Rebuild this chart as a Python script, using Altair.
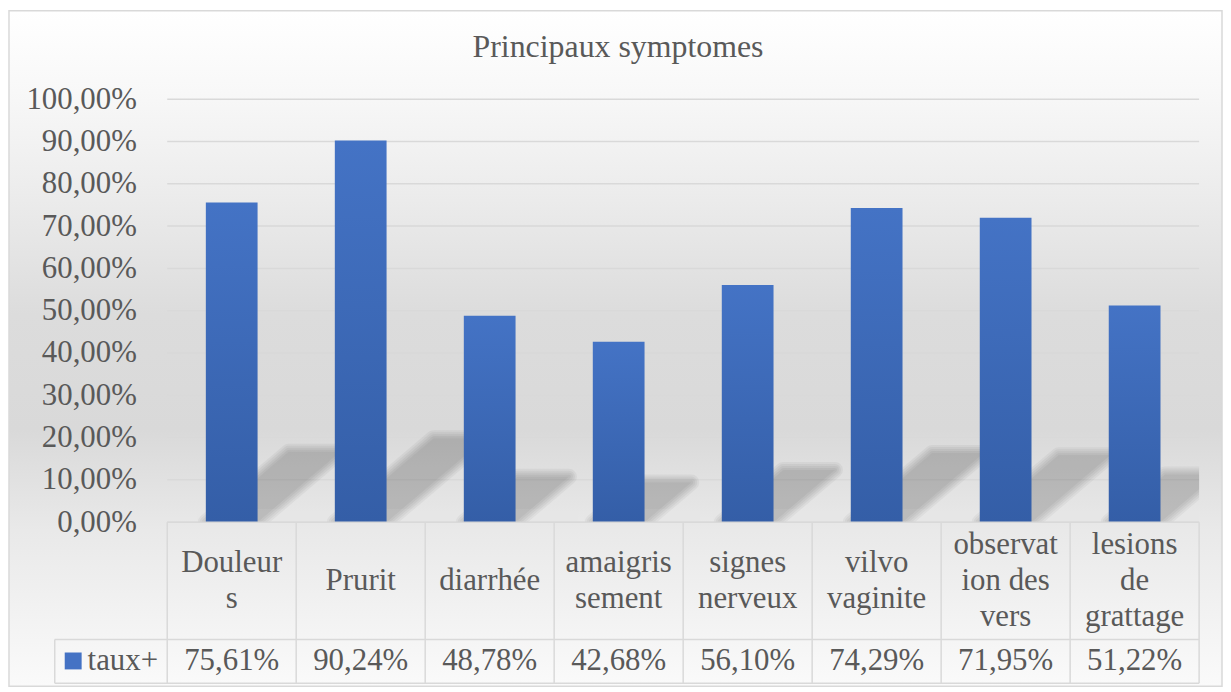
import altair as alt
import pandas as pd

categories = ["Douleurs", "Prurit", "diarrhée", "amaigrissement", "signes nerveux",
              "vilvo vaginite", "observation des vers", "lesions de grattage"]
labels = ["Douleur\ns", "Prurit", "diarrhée", "amaigris\nsement", "signes\nnerveux",
          "vilvo\nvaginite", "observat\nion des\nvers", "lesions\nde\ngrattage"]
values = [0.7561, 0.9024, 0.4878, 0.4268, 0.5610, 0.7429, 0.7195, 0.5122]
series_name = "taux+"
title_text = "Principaux symptomes"
y_ticks = [0, 0.1, 0.2, 0.3, 0.4, 0.5, 0.6, 0.7, 0.8, 0.9, 1.0]

n = len(categories)
df = pd.DataFrame({"cat": categories, "label": labels, "value": values})
one = pd.DataFrame({"k": [0]})
ticks_df = pd.DataFrame({"t": y_ticks})
# four outline samples per bar for the soft drop shadow behind each bar
shadow_df = pd.DataFrame({
    "cat": categories * 4,
    "idx": list(range(n)) * 4,
    "value": values * 4,
    "k": [0] * n + [1] * n + [2] * n + [3] * n,
})

W, H = 1037, 425
BAND = W / n
BARW = 52
FONT = "Liberation Serif, serif"
TXT = "#595959"
LINE = "#d9d9d9"
FS = 31

xs = alt.Scale(domain=categories, paddingInner=0, paddingOuter=0)
ys = alt.Scale(domain=[0, 1], nice=False)
xq = alt.Scale(domain=[0, n], nice=False, zero=False)

base = alt.Chart(df)
deco = alt.Chart(one)

bg = deco.mark_rect(
    color={"gradient": "linear", "x1": 0, "y1": 0, "x2": 0, "y2": 1,
           "stops": [{"offset": 0, "color": "#ffffff"},
                     {"offset": 0.12, "color": "#f8f8f8"},
                     {"offset": 0.27, "color": "#ececec"},
                     {"offset": 0.45, "color": "#dcdcdc"},
                     {"offset": 0.62, "color": "#d9d9d9"},
                     {"offset": 0.77, "color": "#e9e9e9"},
                     {"offset": 1, "color": "#fafafa"}]},
    stroke=LINE, strokeWidth=1.5
).encode(x=alt.value(-159), x2=alt.value(W + 23), y=alt.value(-89), y2=alt.value(H + 165))

grid = alt.Chart(ticks_df).mark_rule(color=LINE, strokeWidth=1.5).encode(
    y=alt.Y("t:Q", scale=ys), x=alt.value(0), x2=alt.value(W))

half = BARW / 2 / BAND
shadow_base = alt.Chart(shadow_df).transform_calculate(
    L=f"datum.idx + 0.5 - {half}",
    R=f"datum.idx + 0.5 + {half}",
    d=f"110 * datum.value / {BAND}",
    h="0.22 * datum.value",
).transform_calculate(
    sx="datum.k == 0 ? datum.L : datum.k == 1 ? min(datum.R, datum.L + datum.d) : "
       "datum.k == 2 ? max(datum.R, datum.L + datum.d) : datum.R + datum.d",
).transform_calculate(
    up="datum.h * min(1, (datum.sx - datum.L) / datum.d)",
    lo="datum.h * max(0, (datum.sx - datum.R) / datum.d)",
)


def shadow(sw, opacity):
    kw = dict(color="#000000", opacity=opacity, clip=True)
    if sw > 0:
        kw.update(stroke="#000000", strokeWidth=sw, strokeJoin="round")
    return shadow_base.mark_area(**kw).encode(
        x=alt.X("sx:Q", scale=xq, axis=None),
        y=alt.Y("up:Q", scale=ys),
        y2="lo:Q",
        detail="cat:N",
    )


shadows = [shadow(sw, 0.04) for sw in (0, 4, 8, 12, 16)]

bars = base.mark_bar(
    width=BARW,
    color={"gradient": "linear", "x1": 0, "y1": 0, "x2": 0, "y2": 1,
           "stops": [{"offset": 0, "color": "#4473c5"},
                     {"offset": 1, "color": "#345ea7"}]}
).encode(
    x=alt.X("cat:N", scale=xs, sort=categories, axis=None),
    y=alt.Y("value:Q", scale=ys,
            axis=alt.Axis(values=y_ticks, domain=False, ticks=False, grid=False, zindex=1,
                          labelFont=FONT, labelFontSize=FS,
                          labelColor=TXT, labelPadding=31, title=None,
                          labelExpr="replace(format(datum.value, '.2%'), '.', ',')")),
)

title = deco.mark_text(font=FONT, fontSize=32, color=TXT, align="center", baseline="middle").encode(
    x=alt.value(453), y=alt.value(-52), text=alt.value(title_text))

# table lines
vlines = base.mark_rule(color=LINE, strokeWidth=1.5).encode(
    x=alt.X("cat:N", scale=xs, sort=categories, bandPosition=0, axis=None),
    y=alt.value(H), y2=alt.value(H + 162))
right_line = deco.mark_rule(color=LINE, strokeWidth=1.5).encode(
    x=alt.value(W), y=alt.value(H), y2=alt.value(H + 162))
top_line = deco.mark_rule(color=LINE, strokeWidth=1.5).encode(
    x=alt.value(0), x2=alt.value(W), y=alt.value(H))
mid_line = deco.mark_rule(color=LINE, strokeWidth=1.5).encode(
    x=alt.value(-113), x2=alt.value(W), y=alt.value(H + 118))
bot_line = deco.mark_rule(color=LINE, strokeWidth=1.5).encode(
    x=alt.value(-113), x2=alt.value(W), y=alt.value(H + 162))
left_line = deco.mark_rule(color=LINE, strokeWidth=1.5).encode(
    x=alt.value(-113), y=alt.value(H + 118), y2=alt.value(H + 162))

cat_text = base.transform_calculate(
    ty=f"{H + 59} - (split(datum.label, '\\n').length - 1) * 18"
).mark_text(font=FONT, fontSize=FS, color=TXT, align="center", baseline="middle",
            lineBreak="\n", lineHeight=36).encode(
    x=alt.X("cat:N", scale=xs, sort=categories, axis=None),
    y=alt.Y("ty:Q", scale=None), text="label:N")

val_text = base.transform_calculate(
    vt="replace(format(datum.value, '.2%'), '.', ',')"
).mark_text(font=FONT, fontSize=FS, color=TXT, align="center", baseline="middle").encode(
    x=alt.X("cat:N", scale=xs, sort=categories, axis=None),
    y=alt.value(H + 140), text="vt:N")

legend_sq = deco.mark_rect(color="#4472c4").encode(
    x=alt.value(-103), x2=alt.value(-86), y=alt.value(H + 131), y2=alt.value(H + 148))
legend_txt = deco.mark_text(font=FONT, fontSize=FS, color=TXT, align="left", baseline="middle").encode(
    x=alt.value(-80), y=alt.value(H + 140), text=alt.value(series_name))

chart = alt.layer(bg, grid, *shadows, bars, title, vlines, right_line, top_line, mid_line,
                  bot_line, left_line, cat_text, val_text, legend_sq, legend_txt).resolve_scale(
    x="independent"
).properties(
    width=W, height=H,
    padding={"left": 160, "top": 90, "right": 24, "bottom": 166},
    autosize=alt.AutoSizeParams(type="none"),
).configure_view(stroke=None).configure(background="white")

chart.save("out.html", embed_options={"renderer": "svg", "actions": False})
